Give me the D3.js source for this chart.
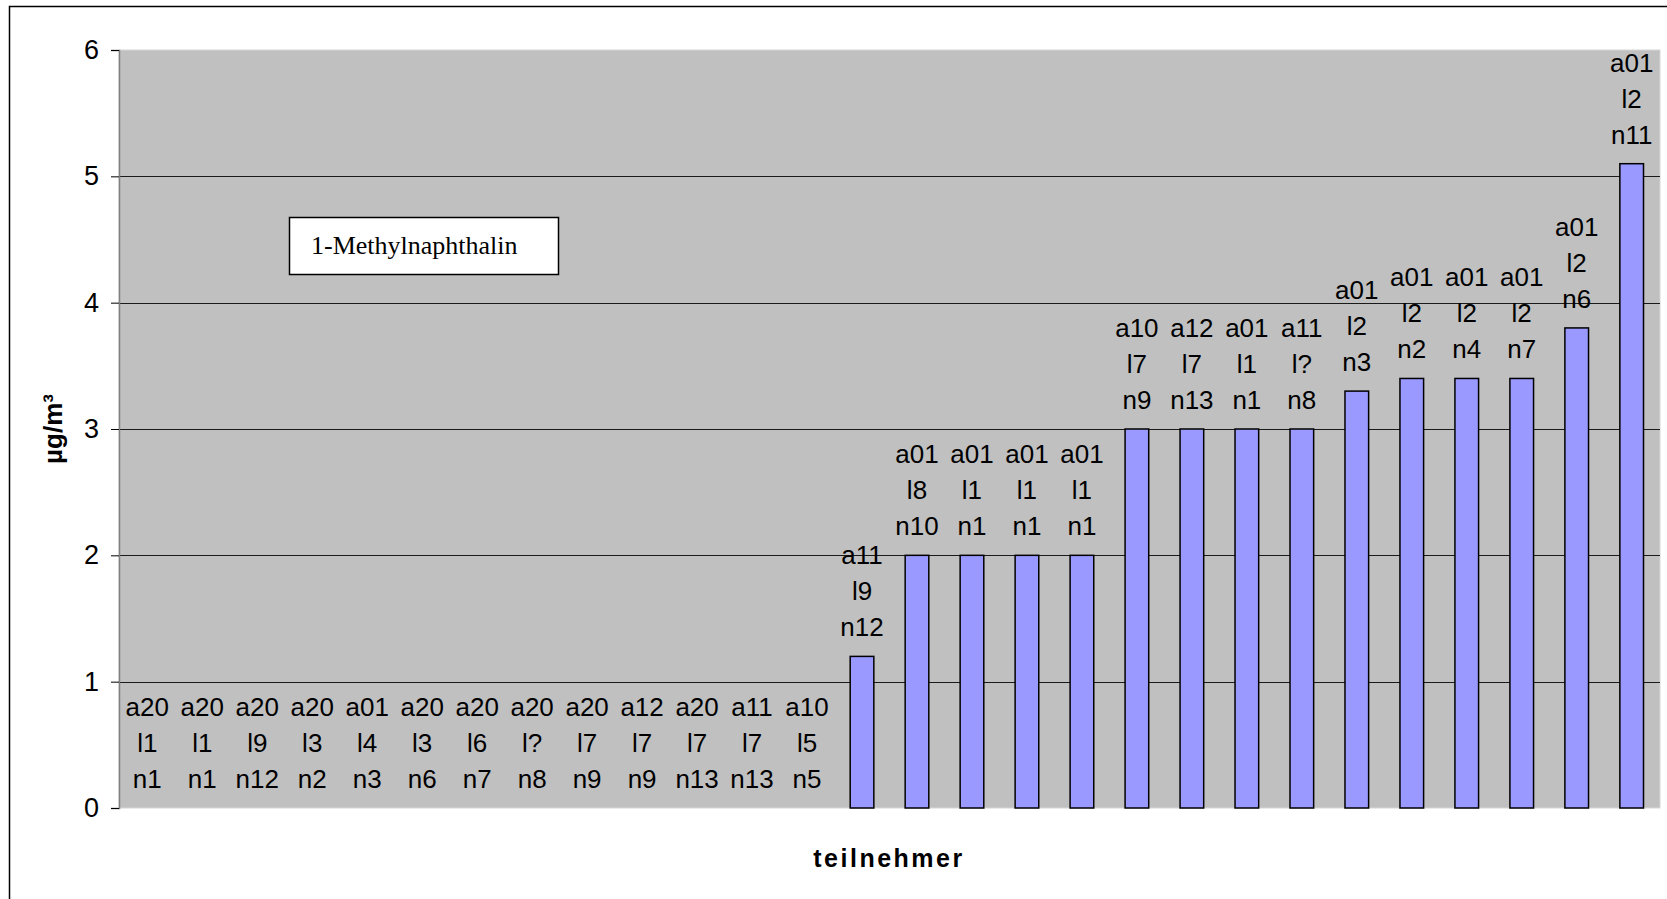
<!DOCTYPE html>
<html>
<head>
<meta charset="utf-8">
<script src="https://cdn.jsdelivr.net/npm/d3@7"></script>
<style>
html, body { margin: 0; padding: 0; background: #fff; }
svg { display: block; }
</style>
</head>
<body>
<svg id="chart" width="1667" height="899"></svg>
<script>
// ---- data ----
const labelLine1 = ["a20","a20","a20","a20","a01","a20","a20","a20","a20","a12","a20","a11","a10","a11","a01","a01","a01","a01","a10","a12","a01","a11","a01","a01","a01","a01","a01","a01"];
const labelLine2 = ["l1","l1","l9","l3","l4","l3","l6","l?","l7","l7","l7","l7","l5","l9","l8","l1","l1","l1","l7","l7","l1","l?","l2","l2","l2","l2","l2","l2"];
const labelLine3 = ["n1","n1","n12","n2","n3","n6","n7","n8","n9","n9","n13","n13","n5","n12","n10","n1","n1","n1","n9","n13","n1","n8","n3","n2","n4","n7","n6","n11"];
const values = [0,0,0,0,0,0,0,0,0,0,0,0,0,1.2,2,2,2,2,3,3,3,3,3.3,3.4,3.4,3.4,3.8,5.1];
const yTicks = [0,1,2,3,4,5,6];
const legendText = "1-Methylnaphthalin";
const xTitle = "teilnehmer";
const yTitle = "µg/m³";

// ---- layout ----
const svg = d3.select("#chart");
const plot = { left: 119, right: 1660, top: 50, bottom: 808 };

const idx = values.map((d, i) => i);
const x = d3.scaleBand().domain(idx).range([plot.left, plot.right]).paddingInner(0.57).paddingOuter(0.3);
const y = d3.scaleLinear().domain([0, 6]).range([plot.bottom, plot.top]);

// outer chart border
svg.append("rect")
  .attr("x", 9.5).attr("y", 6.5)
  .attr("width", 1700).attr("height", 1000)
  .attr("fill", "none").attr("stroke", "#000").attr("stroke-width", 1.5);

// plot background
svg.append("rect")
  .attr("x", plot.left).attr("y", plot.top)
  .attr("width", plot.right - plot.left).attr("height", plot.bottom - plot.top)
  .attr("fill", "#c0c0c0").attr("stroke", "#d6d6d6").attr("stroke-width", 1);

// gridlines
svg.append("g").selectAll("line")
  .data(yTicks.filter(t => t > 0 && t < 6))
  .join("line")
  .attr("x1", plot.left).attr("x2", plot.right)
  .attr("y1", d => Math.round(y(d)) + 0.5).attr("y2", d => Math.round(y(d)) + 0.5)
  .attr("stroke", "#1a1a1a").attr("stroke-width", 1);

// y axis
const yAxis = d3.axisLeft(y).tickValues(yTicks).tickSize(8).tickPadding(12).tickFormat(d3.format("d"));
const gy = svg.append("g").attr("transform", `translate(${plot.left},0)`).call(yAxis);
gy.select(".domain").attr("stroke", "#808080").attr("stroke-width", 1.5);
gy.selectAll(".tick line").attr("stroke", "#000").attr("stroke-width", 1);
gy.selectAll(".tick text")
  .attr("font-family", "'Liberation Sans', Arial, sans-serif")
  .attr("font-size", 27).attr("fill", "#000");

// bars
svg.append("g").selectAll("rect")
  .data(values.map((v, i) => ({ v, i })).filter(d => d.v > 0))
  .join("rect")
  .attr("x", d => x(d.i))
  .attr("y", d => y(d.v))
  .attr("width", x.bandwidth())
  .attr("height", d => y(0) - y(d.v))
  .attr("fill", "#9999ff").attr("stroke", "#000").attr("stroke-width", 1.5);

// data labels
const lineH = 36;
const lbl = svg.append("g")
  .attr("font-family", "'Liberation Sans', Arial, sans-serif")
  .attr("font-size", 26).attr("fill", "#000").attr("text-anchor", "middle");
values.forEach((v, i) => {
  const cx = x(i) + x.bandwidth() / 2;
  const base = y(v) - 20;
  const t = lbl.append("text");
  [labelLine1[i], labelLine2[i], labelLine3[i]].forEach((s, k) => {
    t.append("tspan").attr("x", cx).attr("y", base - (2 - k) * lineH).text(s);
  });
});

// legend / annotation box
svg.append("rect")
  .attr("x", 289.5).attr("y", 217.5).attr("width", 269).attr("height", 57)
  .attr("fill", "#fff").attr("stroke", "#000").attr("stroke-width", 1.5);
svg.append("text")
  .attr("x", 311).attr("y", 254)
  .attr("font-family", "'Liberation Serif', 'Times New Roman', serif")
  .attr("font-size", 26).attr("fill", "#000")
  .text(legendText);

// axis titles
svg.append("text")
  .attr("x", 889).attr("y", 867)
  .attr("text-anchor", "middle")
  .attr("font-family", "'Liberation Sans', Arial, sans-serif")
  .attr("font-size", 25).attr("font-weight", "bold").attr("letter-spacing", 2.5)
  .text(xTitle);

svg.append("text")
  .attr("transform", "translate(62,429) rotate(-90)")
  .attr("text-anchor", "middle")
  .attr("font-family", "'Liberation Sans', Arial, sans-serif")
  .attr("font-size", 26).attr("font-weight", "bold")
  .text(yTitle);
</script>
</body>
</html>
